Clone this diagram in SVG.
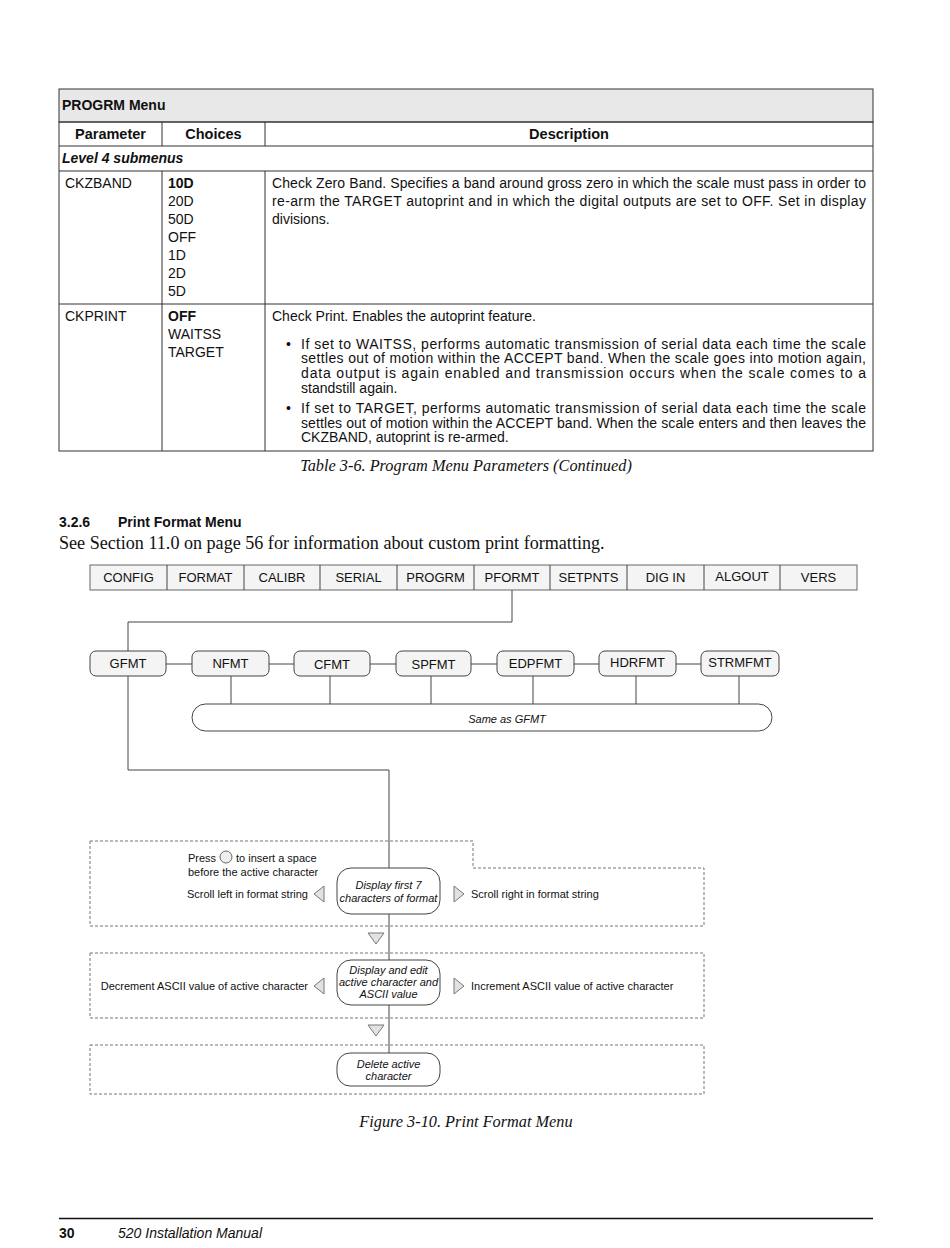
<svg xmlns="http://www.w3.org/2000/svg" width="950" height="1248" viewBox="0 0 950 1248">
<style>
.s{font-family:"Liberation Sans",Arial,sans-serif;fill:#111}
.t{font-size:14px}
.b{font-weight:bold}
.i{font-style:italic}
.c{text-anchor:middle}
.e{text-anchor:end}
.serif{font-family:"Liberation Serif","Times New Roman",serif;fill:#111}
.grid{stroke:#333;stroke-width:1;fill:none}
.menu{fill:#f4f4f4;stroke:#666;stroke-width:1}
.node{fill:#f4f4f4;stroke:#444;stroke-width:1}
.wnode{fill:#fff;stroke:#444;stroke-width:1}
.ln{stroke:#444;stroke-width:1;fill:none}
.dash{stroke:#777;stroke-width:1;fill:none;stroke-dasharray:3 2}
.tri{fill:#e2e2e2;stroke:#777;stroke-width:1}
.d{font-size:11px}
.m{font-size:13px}
</style>

<!-- Table -->
<g id="table">
<rect x="59" y="89" width="814" height="33" fill="#e8e8e8" stroke="#333"/>
<rect x="59" y="122" width="814" height="329" class="grid"/>
<line x1="59" y1="146" x2="873" y2="146" class="grid"/>
<line x1="59" y1="171" x2="873" y2="171" class="grid"/>
<line x1="59" y1="304" x2="873" y2="304" class="grid"/>
<line x1="162" y1="122" x2="162" y2="146" class="grid"/>
<line x1="265" y1="122" x2="265" y2="146" class="grid"/>
<line x1="162" y1="171" x2="162" y2="451" class="grid"/>
<line x1="265" y1="171" x2="265" y2="451" class="grid"/>
<text x="62" y="110" class="s b t">PROGRM Menu</text>
<text x="110.5" y="139" class="s b c" font-size="14.5">Parameter</text>
<text x="213.5" y="139" class="s b c" font-size="14.5">Choices</text>
<text x="569" y="139" class="s b c" font-size="14.5">Description</text>
<text x="62" y="163" class="s b i t">Level 4 submenus</text>
<text x="65" y="188" class="s t">CKZBAND</text>
<g class="s t">
<text x="168" y="188" class="b">10D</text>
<text x="168" y="206">20D</text>
<text x="168" y="224">50D</text>
<text x="168" y="242">OFF</text>
<text x="168" y="260">1D</text>
<text x="168" y="278">2D</text>
<text x="168" y="296">5D</text>
<text x="272" y="188" textLength="594" lengthAdjust="spacing">Check Zero Band. Specifies a band around gross zero in which the scale must pass in order to</text>
<text x="272" y="206" textLength="594" lengthAdjust="spacing">re-arm the TARGET autoprint and in which the digital outputs are set to OFF. Set in display</text>
<text x="272" y="224">divisions.</text>
<text x="65" y="321">CKPRINT</text>
<text x="168" y="321" class="b">OFF</text>
<text x="168" y="339">WAITSS</text>
<text x="168" y="357">TARGET</text>
<text x="272" y="321">Check Print. Enables the autoprint feature.</text>
<text x="286" y="349">•</text>
<text x="301" y="349" textLength="565" lengthAdjust="spacing">If set to WAITSS, performs automatic transmission of serial data each time the scale</text>
<text x="301" y="363" textLength="565" lengthAdjust="spacing">settles out of motion within the ACCEPT band. When the scale goes into motion again,</text>
<text x="301" y="378" textLength="565" lengthAdjust="spacing">data output is again enabled and transmission occurs when the scale comes to a</text>
<text x="301" y="393">standstill again.</text>
<text x="286" y="413">•</text>
<text x="301" y="413" textLength="565" lengthAdjust="spacing">If set to TARGET, performs automatic transmission of serial data each time the scale</text>
<text x="301" y="428" textLength="565" lengthAdjust="spacing">settles out of motion within the ACCEPT band. When the scale enters and then leaves the</text>
<text x="301" y="442">CKZBAND, autoprint is re-armed.</text>
</g>
<text x="466" y="471" class="serif i c" font-size="16.3">Table 3-6. Program Menu Parameters (Continued)</text>
</g>

<g id="heading">
<text x="59" y="527" class="s b" font-size="14">3.2.6</text>
<text x="118" y="527" class="s b" font-size="14">Print Format Menu</text>
<text x="59" y="549" class="serif" font-size="18.1">See Section 11.0 on page 56 for information about custom print formatting.</text>
</g>

<!-- Connectors -->
<g id="connectors">
<polyline points="512,590 512,622 128,622 128,651" class="ln"/>
<line x1="166" y1="664" x2="192" y2="664" class="ln"/>
<line x1="269" y1="664" x2="294" y2="664" class="ln"/>
<line x1="370" y1="664" x2="396" y2="664" class="ln"/>
<line x1="471" y1="664" x2="497" y2="664" class="ln"/>
<line x1="574" y1="664" x2="599" y2="664" class="ln"/>
<line x1="676" y1="664" x2="701" y2="664" class="ln"/>
<line x1="231" y1="676" x2="231" y2="704" class="ln"/>
<line x1="330" y1="676" x2="330" y2="704" class="ln"/>
<line x1="431" y1="676" x2="431" y2="704" class="ln" stroke="#888"/>
<line x1="533" y1="676" x2="533" y2="704" class="ln" stroke="#888"/>
<line x1="636" y1="676" x2="636" y2="704" class="ln"/>
<line x1="739" y1="676" x2="739" y2="704" class="ln"/>
<polyline points="128,676 128,770 389,770 389,868" class="ln"/>
<line x1="389" y1="914" x2="389" y2="960" class="ln"/>
<line x1="389" y1="1005" x2="389" y2="1053" class="ln"/>
</g>

<!-- Menu bar -->
<g id="menubar" class="s m">
<rect x="90" y="565" width="767" height="25" class="menu"/>
<g class="ln" stroke="#666">
<line x1="167" y1="565" x2="167" y2="590"/>
<line x1="244" y1="565" x2="244" y2="590"/>
<line x1="320" y1="565" x2="320" y2="590"/>
<line x1="397" y1="565" x2="397" y2="590"/>
<line x1="474" y1="565" x2="474" y2="590"/>
<line x1="550" y1="565" x2="550" y2="590"/>
<line x1="627" y1="565" x2="627" y2="590"/>
<line x1="704" y1="565" x2="704" y2="590"/>
<line x1="780" y1="565" x2="780" y2="590"/>
</g>
<text x="128.5" y="582" class="c">CONFIG</text>
<text x="205.5" y="582" class="c">FORMAT</text>
<text x="282" y="582" class="c">CALIBR</text>
<text x="358.5" y="582" class="c">SERIAL</text>
<text x="435.5" y="582" class="c">PROGRM</text>
<text x="512" y="582" class="c">PFORMT</text>
<text x="588.5" y="582" class="c">SETPNTS</text>
<text x="665.5" y="582" class="c">DIG IN</text>
<text x="742" y="581" class="c">ALGOUT</text>
<text x="818.5" y="582" class="c">VERS</text>
</g>

<g id="n-gfmt"><rect x="90" y="651" width="76" height="25" rx="6" class="node"/><text x="128" y="668" class="s m c">GFMT</text></g>
<g id="n-nfmt"><rect x="192" y="651" width="77" height="25" rx="6" class="node"/><text x="230.5" y="668" class="s m c">NFMT</text></g>
<g id="n-cfmt"><rect x="294" y="651" width="76" height="25" rx="6" class="node"/><text x="332" y="669" class="s m c">CFMT</text></g>
<g id="n-spfmt"><rect x="396" y="651" width="75" height="25" rx="6" class="node"/><text x="433.5" y="669" class="s m c">SPFMT</text></g>
<g id="n-edpfmt"><rect x="497" y="651" width="77" height="25" rx="6" class="node"/><text x="535.5" y="668" class="s m c">EDPFMT</text></g>
<g id="n-hdrfmt"><rect x="599" y="651" width="77" height="25" rx="6" class="node"/><text x="637.5" y="667" class="s m c">HDRFMT</text></g>
<g id="n-strmfmt"><rect x="701" y="651" width="78" height="25" rx="6" class="node"/><text x="740" y="667" class="s m c">STRMFMT</text></g>
<g id="n-same"><rect x="192" y="704" width="580" height="27" rx="13.5" class="wnode"/><text x="507" y="723" class="s i c d">Same as GFMT</text></g>

<!-- Dashed groups -->
<g id="group1">
<polygon points="90,841 473,841 473,868 704,868 704,926 90,926" class="dash"/>
<text x="188" y="862" class="s d">Press</text>
<circle cx="226" cy="857" r="6" fill="#eee" stroke="#666"/>
<text x="236" y="862" class="s d">to insert a space</text>
<text x="188" y="876" class="s d">before the active character</text>
<text x="308" y="898" class="s d e">Scroll left in format string</text>
<polygon points="324,886 324,902 314,894" class="tri"/>
<polygon points="454,886 454,902 464,894" class="tri"/>
<text x="471" y="898" class="s d">Scroll right in format string</text>
</g>
<g id="n-display7"><rect x="337" y="868" width="103" height="46" rx="14" class="wnode"/>
<text x="388.5" y="889" class="s i c d">Display first 7</text>
<text x="388.5" y="902" class="s i c d">characters of format</text></g>
<polygon id="tri1" points="368,933 384,933 376,944" class="tri"/>

<g id="group2">
<rect x="90" y="953" width="614" height="65" class="dash"/>
<text x="308" y="990" class="s d e">Decrement ASCII value of active character</text>
<polygon points="324,978 324,994 314,986" class="tri"/>
<polygon points="454,978 454,994 464,986" class="tri"/>
<text x="471" y="990" class="s d">Increment ASCII value of active character</text>
</g>
<g id="n-edit"><rect x="337" y="960" width="103" height="45" rx="14" class="wnode"/>
<text x="388.5" y="974" class="s i c d">Display and edit</text>
<text x="388.5" y="986" class="s i c d">active character and</text>
<text x="388.5" y="998" class="s i c d">ASCII value</text></g>
<polygon id="tri2" points="368,1025 384,1025 376,1036" class="tri"/>

<g id="group3"><rect x="90" y="1045" width="614" height="49" class="dash"/></g>
<g id="n-delete"><rect x="337" y="1053" width="103" height="33" rx="13" class="wnode"/>
<text x="388.5" y="1068" class="s i c d">Delete active</text>
<text x="388.5" y="1080" class="s i c d">character</text></g>

<text x="466" y="1127" class="serif i c" font-size="16.3">Figure 3-10. Print Format Menu</text>

<g id="footer">
<line x1="59" y1="1218.5" x2="873" y2="1218.5" stroke="#111" stroke-width="1.5"/>
<text x="59" y="1238" class="s b" font-size="14">30</text>
<text x="118" y="1238" class="s i" font-size="14">520 Installation Manual</text>
</g>
</svg>
